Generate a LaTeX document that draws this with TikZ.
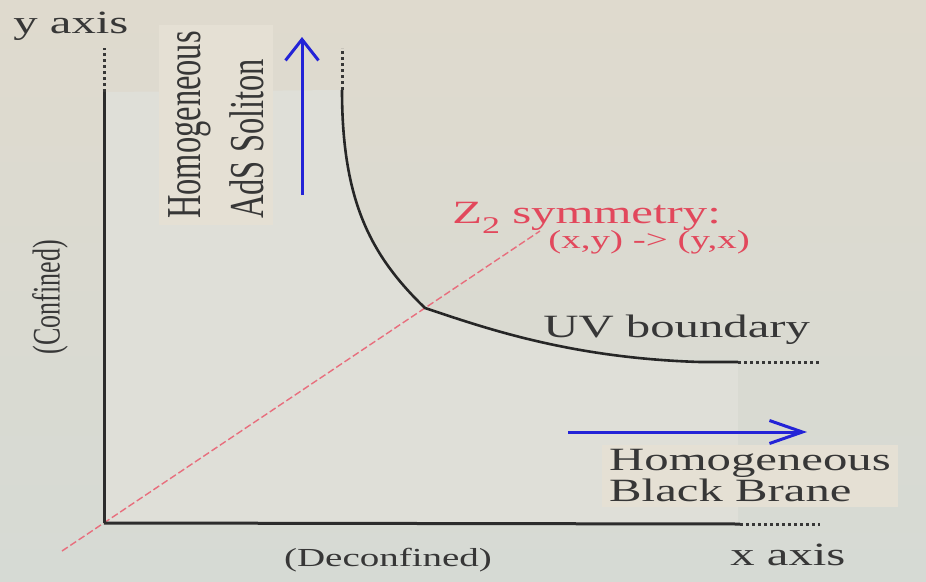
\documentclass[tikz,border=0pt]{standalone}
\usepackage{fontspec}
\setmainfont{Liberation Serif}
\usetikzlibrary{arrows.meta}
\definecolor{bgtop}{RGB}{223,218,206}
\definecolor{bgbot}{RGB}{214,218,212}
\definecolor{regioncol}{RGB}{223,223,216}
\definecolor{boxbeige}{RGB}{229,224,212}
\definecolor{inkgray}{RGB}{55,55,55}
\definecolor{zred}{RGB}{226,72,92}
\definecolor{dashred}{RGB}{232,110,125}
\definecolor{arrblue}{RGB}{35,35,215}
\tikzset{
  axisline/.style={line width=3pt, draw=inkgray!80!black},
  dotend/.style={line width=3pt, draw=inkgray, dash pattern=on 3pt off 3pt},
  bluearrow/.style={line width=3pt, draw=arrblue},
  htext/.style={xscale=1.5, text=inkgray, inner sep=0pt},
  vtext/.style={xscale=1.5, rotate=90, text=inkgray, inner sep=0pt},
  redtext/.style={xscale=1.5, text=zred, inner sep=0pt},
  bigfont/.style={font={\fontsize{32.5}{42}\selectfont}},
  smallfont/.style={font={\fontsize{26}{30}\selectfont}},
}
\begin{document}
\begin{tikzpicture}[x=1pt,y=-1pt]
% background
\shade[top color=bgtop, bottom color=bgbot] (0,0) rectangle (926,581);
\useasboundingbox (0,0) rectangle (926,581);
% named points
\coordinate (O) at (104,523);
\coordinate (ytop) at (104,92);
\coordinate (yend) at (104,48);
\coordinate (xr) at (740,524);
\coordinate (xend) at (820,524);
\coordinate (ctop) at (342,90);
\coordinate (cend) at (342,48);
\coordinate (corner) at (425,308);
\coordinate (uvr) at (738,362);
\coordinate (uvend) at (820,362);
\coordinate (rs) at (62,551);
\coordinate (re) at (540,231);
\coordinate (ua) at (302,195);
\coordinate (ub) at (302,37);
\coordinate (ra) at (568,432);
\coordinate (rb) at (807,432);
% shaded region
\fill[regioncol] (O) -- (ytop) -- (ctop) .. controls (342,200) and (370,255) .. (corner)
   .. controls (485,328) and (570,358) .. (700,362) -- (uvr) -- (738,523) -- cycle;
% text boxes
\node[vtext, bigfont, align=left, fill=boxbeige, inner sep=6pt] (soliton) at (216,125) {Homogeneous\\AdS Soliton};
\node[htext, align=left, fill=boxbeige, inner sep=5pt,
      font={\fontsize{32.5}{31}\selectfont}] (brane) at (750,476) {Homogeneous\\Black Brane};
% symmetry line
\draw[dashred, line width=1.4pt, dash pattern=on 7pt off 3pt] (rs) -- (re);
% axes
\draw[axisline] (O) -- (ytop);
\draw[dotend] (ytop) -- (yend);
\draw[axisline] (O) -- (xr);
\draw[dotend] (xr) -- (xend);
% UV boundary curve
\draw[line width=2.6pt, draw=black!85] (ctop) .. controls (342,200) and (370,255) .. (corner)
   .. controls (485,328) and (570,358) .. (700,362) -- (uvr);
\draw[dotend] (ctop) -- (cend);
\draw[dotend] (uvr) -- (uvend);
% blue arrows
\draw[bluearrow, -{Straight Barb[length=21pt,width=33pt,line width=3pt]}] (ua) -- (ub);
\draw[bluearrow, -{Straight Barb[length=33pt,width=23pt,line width=3pt]}] (ra) -- (rb);
% labels
\node[htext, bigfont, anchor=base west] (yaxis) at (13,33) {y axis};
\node[htext, bigfont, anchor=base west] (xaxis) at (730,565) {x axis};
\node[htext, bigfont, anchor=base west] (uv) at (543,337) {UV boundary};
\node[redtext, font={\fontsize{32.5}{36}\selectfont}, anchor=base west] (z2) at (452,223)
   {Z\raisebox{-10pt}{\fontsize{24}{24}\selectfont 2} symmetry:};
\node[redtext, smallfont, anchor=base west] (map) at (548,248) {(x,y) -> (y,x)};
\node[vtext, smallfont] (conf) at (50,297) {(Confined)};
\node[htext, smallfont] (deconf) at (388,560) {(Deconfined)};
\end{tikzpicture}
\end{document}
